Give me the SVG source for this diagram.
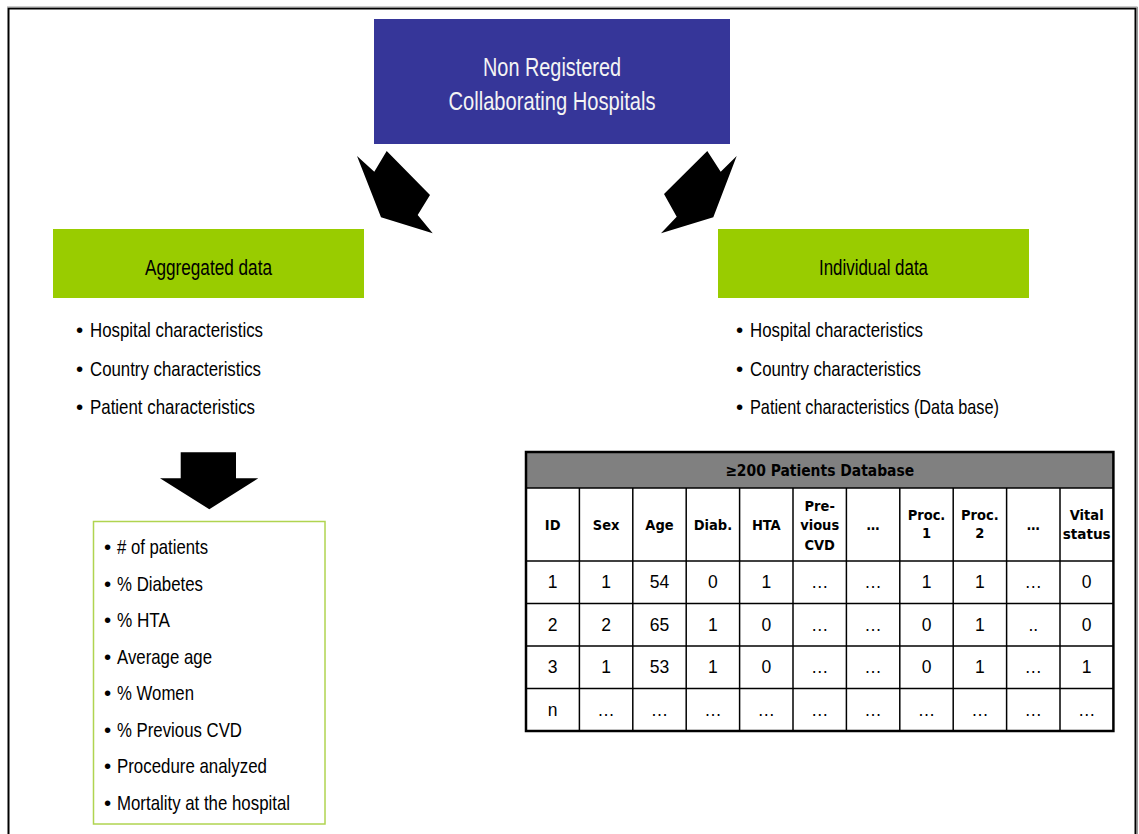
<svg xmlns="http://www.w3.org/2000/svg" width="1139" height="834" viewBox="0 0 1139 834">
<style>
.narrow{font-family:"Liberation Sans Narrow","Liberation Sans",Arial,sans-serif;}
.title{font-size:26px;fill:#f4f4f4;text-anchor:middle;}
.hdr{font-size:22px;fill:#000;text-anchor:middle;}
.item{font-size:21px;fill:#000;}
.bul{font-size:20.5px;fill:#000;}
.th{font-family:"DejaVu Sans Condensed","DejaVu Sans",Verdana,sans-serif;font-weight:bold;font-size:14.5px;fill:#000;text-anchor:middle;font-stretch:condensed;}
.cap{font-size:16px;}
.td{font-family:"Liberation Sans Narrow","Liberation Sans",Arial,sans-serif;font-size:17.5px;fill:#000;text-anchor:middle;}
.grid{stroke:#000;stroke-width:1.5;fill:none;}
.arrow{fill:#000;}
</style>
<rect width="1139" height="834" fill="#fff"/>
<g id="frame">
<path d="M8.5 834 V8.5 H1135.5 V834" fill="none" stroke="#000" stroke-width="2"/>
<path d="M7 7 H1137.5 V834" fill="none" stroke="#999" stroke-width="1"/>
</g>
<g id="hospitals">
<rect x="374" y="19" width="356" height="125" fill="#363699"/>
<text class="narrow title" x="552" y="76" textLength="138" lengthAdjust="spacingAndGlyphs">Non Registered</text>
<text class="narrow title" x="552" y="110" textLength="207" lengthAdjust="spacingAndGlyphs">Collaborating Hospitals</text>
</g>
<g id="aggregated">
<rect x="53" y="229" width="311" height="69" fill="#99cc00"/>
<text class="narrow hdr" x="208.5" y="275" textLength="127" lengthAdjust="spacingAndGlyphs">Aggregated data</text>
<text class="narrow bul" x="76" y="337">•</text>
<text class="narrow item" x="90" y="337" textLength="173" lengthAdjust="spacingAndGlyphs">Hospital characteristics</text>
<text class="narrow bul" x="76" y="376">•</text>
<text class="narrow item" x="90" y="376" textLength="171" lengthAdjust="spacingAndGlyphs">Country characteristics</text>
<text class="narrow bul" x="76" y="414">•</text>
<text class="narrow item" x="90" y="414" textLength="165" lengthAdjust="spacingAndGlyphs">Patient characteristics</text>
</g>
<g id="individual">
<rect x="718" y="229" width="311" height="69" fill="#99cc00"/>
<text class="narrow hdr" x="873.5" y="275" textLength="109" lengthAdjust="spacingAndGlyphs">Individual data</text>
<text class="narrow bul" x="736" y="337">•</text>
<text class="narrow item" x="750" y="337" textLength="173" lengthAdjust="spacingAndGlyphs">Hospital characteristics</text>
<text class="narrow bul" x="736" y="376">•</text>
<text class="narrow item" x="750" y="376" textLength="171" lengthAdjust="spacingAndGlyphs">Country characteristics</text>
<text class="narrow bul" x="736" y="414">•</text>
<text class="narrow item" x="750" y="414" textLength="249" lengthAdjust="spacingAndGlyphs">Patient characteristics (Data base)</text>
</g>
<g id="summary">
<rect x="93.5" y="521.5" width="231.5" height="302.5" fill="none" stroke="#b0d450" stroke-width="1.5"/>
<text class="narrow bul" x="104" y="554">•</text>
<text class="narrow item" x="117" y="554" textLength="91" lengthAdjust="spacingAndGlyphs"># of patients</text>
<text class="narrow bul" x="104" y="590.5">•</text>
<text class="narrow item" x="117" y="590.5" textLength="86" lengthAdjust="spacingAndGlyphs">% Diabetes</text>
<text class="narrow bul" x="104" y="627">•</text>
<text class="narrow item" x="117" y="627" textLength="53" lengthAdjust="spacingAndGlyphs">% HTA</text>
<text class="narrow bul" x="104" y="663.5">•</text>
<text class="narrow item" x="117" y="663.5" textLength="95" lengthAdjust="spacingAndGlyphs">Average age</text>
<text class="narrow bul" x="104" y="700">•</text>
<text class="narrow item" x="117" y="700" textLength="77" lengthAdjust="spacingAndGlyphs">% Women</text>
<text class="narrow bul" x="104" y="736.5">•</text>
<text class="narrow item" x="117" y="736.5" textLength="125" lengthAdjust="spacingAndGlyphs">% Previous CVD</text>
<text class="narrow bul" x="104" y="773">•</text>
<text class="narrow item" x="117" y="773" textLength="150" lengthAdjust="spacingAndGlyphs">Procedure analyzed</text>
<text class="narrow bul" x="104" y="809.5">•</text>
<text class="narrow item" x="117" y="809.5" textLength="173" lengthAdjust="spacingAndGlyphs">Mortality at the hospital</text>
</g>
<g id="database">
<rect x="526" y="452" width="587.4" height="36" fill="#808080"/>
<text class="th cap" x="819.7" y="476" textLength="189" lengthAdjust="spacingAndGlyphs">≥200 Patients Database</text>
<g class="grid">
<line x1="526" y1="488" x2="1113.4" y2="488"/>
<line x1="526" y1="561" x2="1113.4" y2="561"/>
<line x1="526" y1="603.5" x2="1113.4" y2="603.5"/>
<line x1="526" y1="646" x2="1113.4" y2="646"/>
<line x1="526" y1="688.5" x2="1113.4" y2="688.5"/>
<line x1="579.4" y1="488" x2="579.4" y2="731"/>
<line x1="632.8" y1="488" x2="632.8" y2="731"/>
<line x1="686.2" y1="488" x2="686.2" y2="731"/>
<line x1="739.6" y1="488" x2="739.6" y2="731"/>
<line x1="793" y1="488" x2="793" y2="731"/>
<line x1="846.4" y1="488" x2="846.4" y2="731"/>
<line x1="899.8" y1="488" x2="899.8" y2="731"/>
<line x1="953.2" y1="488" x2="953.2" y2="731"/>
<line x1="1006.6" y1="488" x2="1006.6" y2="731"/>
<line x1="1060" y1="488" x2="1060" y2="731"/>
</g>
<rect x="526" y="452" width="587.4" height="279" fill="none" stroke="#000" stroke-width="2.5"/>
<text class="th" x="552.7" y="530">ID</text>
<text class="th" x="606.1" y="530">Sex</text>
<text class="th" x="659.5" y="530">Age</text>
<text class="th" x="712.9" y="530">Diab.</text>
<text class="th" x="766.3" y="530">HTA</text>
<text class="th" x="819.7" y="511">Pre-</text>
<text class="th" x="819.7" y="530">vious</text>
<text class="th" x="819.7" y="550">CVD</text>
<text class="th" x="873.1" y="530">…</text>
<text class="th" x="926.5" y="520">Proc.</text>
<text class="th" x="926.5" y="538">1</text>
<text class="th" x="979.9" y="520">Proc.</text>
<text class="th" x="979.9" y="538">2</text>
<text class="th" x="1033.3" y="530">…</text>
<text class="th" x="1086.7" y="520">Vital</text>
<text class="th" x="1086.7" y="539" textLength="48" lengthAdjust="spacingAndGlyphs">status</text>
<text class="td" x="552.7" y="588">1</text>
<text class="td" x="606.1" y="588">1</text>
<text class="td" x="659.5" y="588">54</text>
<text class="td" x="712.9" y="588">0</text>
<text class="td" x="766.3" y="588">1</text>
<text class="td" x="819.7" y="588">…</text>
<text class="td" x="873.1" y="588">…</text>
<text class="td" x="926.5" y="588">1</text>
<text class="td" x="979.9" y="588">1</text>
<text class="td" x="1033.3" y="588">…</text>
<text class="td" x="1086.7" y="588">0</text>
<text class="td" x="552.7" y="631">2</text>
<text class="td" x="606.1" y="631">2</text>
<text class="td" x="659.5" y="631">65</text>
<text class="td" x="712.9" y="631">1</text>
<text class="td" x="766.3" y="631">0</text>
<text class="td" x="819.7" y="631">…</text>
<text class="td" x="873.1" y="631">…</text>
<text class="td" x="926.5" y="631">0</text>
<text class="td" x="979.9" y="631">1</text>
<text class="td" x="1033.3" y="631">..</text>
<text class="td" x="1086.7" y="631">0</text>
<text class="td" x="552.7" y="673">3</text>
<text class="td" x="606.1" y="673">1</text>
<text class="td" x="659.5" y="673">53</text>
<text class="td" x="712.9" y="673">1</text>
<text class="td" x="766.3" y="673">0</text>
<text class="td" x="819.7" y="673">…</text>
<text class="td" x="873.1" y="673">…</text>
<text class="td" x="926.5" y="673">0</text>
<text class="td" x="979.9" y="673">1</text>
<text class="td" x="1033.3" y="673">…</text>
<text class="td" x="1086.7" y="673">1</text>
<text class="td" x="552.7" y="716">n</text>
<text class="td" x="606.1" y="716">…</text>
<text class="td" x="659.5" y="716">…</text>
<text class="td" x="712.9" y="716">…</text>
<text class="td" x="766.3" y="716">…</text>
<text class="td" x="819.7" y="716">…</text>
<text class="td" x="873.1" y="716">…</text>
<text class="td" x="926.5" y="716">…</text>
<text class="td" x="979.9" y="716">…</text>
<text class="td" x="1033.3" y="716">…</text>
<text class="td" x="1086.7" y="716">…</text>
</g>
<g id="connectors">
<polygon class="arrow" points="357,156 374.3,171.7 386.7,151 430,195 417.7,215 432.7,233.3 381,217.3"/>
<polygon class="arrow" points="736.7,156 720.7,171.7 707.3,151 664,194 676.7,216.7 661,233.3 713.3,217.3"/>
<polygon class="arrow" points="180.7,452.3 236,452.3 236,478.3 258.3,478.3 209.3,509.3 160,478.3 180.7,478.3"/>
</g>
</svg>
